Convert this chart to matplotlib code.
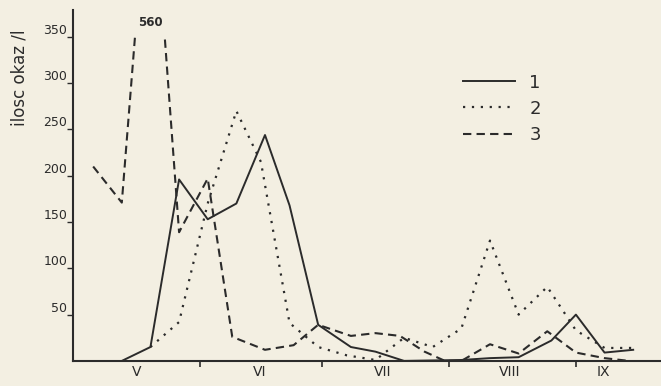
import numpy as np
import matplotlib
matplotlib.use("Agg")
import matplotlib.pyplot as plt
from matplotlib.patches import Rectangle

# days counted from 1 May
days1 = [12, 19, 26, 33, 40, 47, 53, 60, 68, 74, 81, 95, 102, 109, 117, 123, 130, 137]
s1 = [0, 15, 196, 153, 170, 244, 168, 39, 15, 10, 0, 1, 3, 4, 22, 50, 9, 12]

days2 = [19, 26, 33, 40, 46, 53, 60, 67, 74, 81, 88, 95, 102, 109, 116, 123, 130, 137]
s2 = [15, 42, 170, 270, 215, 41, 15, 6, 1, 25, 15, 35, 130, 50, 80, 33, 14, 14]

days3 = [5, 12, 19, 26, 33, 39, 47, 54, 60, 68, 74, 80, 86, 91, 95, 102, 109, 116, 123, 130, 136]
s3 = [210, 171, 560, 139, 197, 26, 12, 17, 39, 27, 30, 27, 10, 0, 0, 18, 8, 32, 9, 3, 0]

month_names = ["V", "VI", "VII", "VIII", "IX"]
month_pos = [15.6, 45.7, 75.8, 106.8, 129.6]
month_bounds = [31, 61, 92, 123]
yticks = [50, 100, 150, 200, 250, 300, 350]

paper = "#f3efe2"
ink = "#2b2b2b"

fig = plt.figure(figsize=(6.61, 3.86), dpi=100, facecolor=paper)
ax = fig.add_axes([0.110, 0.065, 0.89, 0.909])
ax.set_facecolor(paper)

l1, = ax.plot(days1, s1, color=ink, lw=1.4, label="1")
l2, = ax.plot(days2, s2, color=ink, lw=1.6, linestyle=(0, (1, 3)), label="2")
l3, = ax.plot(days3, s3, color=ink, lw=1.5, linestyle=(0, (4, 2.5)), label="3")

# the 560 peak is cut off at the top of the scale
clip = Rectangle((0, -20), 150, 372, transform=ax.transData)
l3.set_clip_path(clip)
ax.text(19.1, 366, "560", ha="center", va="center", fontsize=8.5,
        fontweight="bold", color=ink)

ax.set_xlim(0, 143.8)
ax.set_ylim(0, 379)

for s in ["top", "right"]:
    ax.spines[s].set_visible(False)
ax.spines["left"].set_linewidth(1.5)
ax.spines["bottom"].set_linewidth(1.5)
ax.spines["left"].set_color(ink)
ax.spines["bottom"].set_color(ink)

ax.set_yticks(yticks)
ax.set_yticklabels([str(v) for v in yticks])
ax.tick_params(axis="y", direction="out", length=4, width=1, colors=ink,
               labelsize=9, pad=0)
for lbl in ax.get_yticklabels():
    lbl.set_va("bottom")

ax.set_xticks(month_bounds)
ax.set_xticklabels([])
ax.tick_params(axis="x", which="major", direction="out", length=4, width=1.2, colors=ink)
ax.set_xticks(month_pos, minor=True)
ax.set_xticklabels(month_names, minor=True)
ax.tick_params(axis="x", which="minor", length=0, labelsize=10, pad=3, colors=ink)

fig.text(20 / 661, 1 - 78 / 386, "ilosc okaz /l", rotation=90, ha="center",
         va="center", fontsize=12, color=ink)

ax.legend(handles=[l1, l2, l3], frameon=False, fontsize=13, handlelength=2.9,
          handletextpad=0.8, labelspacing=0.45, loc="upper left",
          bbox_to_anchor=(0.635, 0.865), labelcolor=ink)

fig.savefig("out.png", dpi=100, facecolor=paper)
